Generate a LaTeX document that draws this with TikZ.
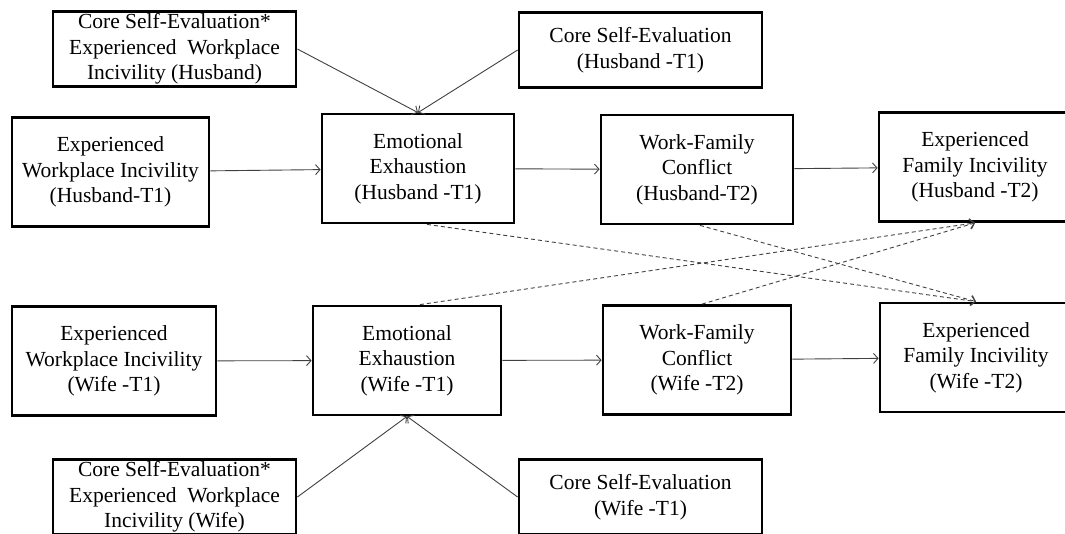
\documentclass[tikz,border=0pt]{standalone}
\usepackage{fontspec}
\setmainfont{Liberation Serif}
\usetikzlibrary{arrows.meta}

\begin{document}
\begin{tikzpicture}[x=1pt, y=-1pt]
\tikzset{
    box/.style={rectangle, draw=black, line width=2.8pt, text=black, align=center, inner sep=0pt, font=\fontsize{21.5}{25.5}\selectfont, minimum height=109pt},
    modbox/.style={box, minimum width=243pt, minimum height=75pt},
    arr/.style={draw=black!75, line width=0.9pt, -{Straight Barb[length=4.5pt,width=10pt]}},
    dasharr/.style={arr, dash pattern=on 4pt off 3pt}
}
\clip (0,0) rectangle (1065,533);

% nodes
\node[modbox]                      (csexH) at (174.5,49)  {Core Self-Evaluation*\\Experienced\ \ Workplace\\Incivility (Husband)};
\node[modbox]                      (cseH)  at (640.5,50)  {Core Self-Evaluation\\(Husband -T1)};
\node[box, minimum width=197pt]    (ewiH)  at (110.5,172) {Experienced\\Workplace Incivility\\(Husband-T1)};
\node[box, minimum width=192pt]    (eeH)   at (418,168.5) {Emotional\\Exhaustion\\(Husband -T1)};
\node[box, minimum width=192pt]    (wfcH)  at (697,169.5) {Work-Family\\Conflict\\(Husband-T2)};
\node[box, minimum width=192pt]    (efiH)  at (975,167)   {Experienced\\Family Incivility\\(Husband -T2)};

\node[box, minimum width=204pt]    (ewiW)  at (114,361)   {Experienced\\Workplace Incivility\\(Wife -T1)};
\node[box, minimum width=188pt]    (eeW)   at (407,360.5) {Emotional\\Exhaustion\\(Wife -T1)};
\node[box, minimum width=188pt]    (wfcW)  at (697,360)   {Work-Family\\Conflict\\(Wife -T2)};
\node[box, minimum width=192pt]    (efiW)  at (976,357.5) {Experienced\\Family Incivility\\(Wife -T2)};
\node[modbox]                      (csexW) at (174.5,497) {Core Self-Evaluation*\\Experienced\ \ Workplace\\Incivility (Wife)};
\node[modbox]                      (cseW)  at (640.5,497) {Core Self-Evaluation\\(Wife -T1)};

% arrows
\draw[arr] (csexH.east) -- (eeH.north);
\draw[arr] (cseH.west) -- (eeH.north);
\draw[arr] (ewiH) -- (eeH);
\draw[arr] (eeH) -- (wfcH);
\draw[arr] (wfcH) -- (efiH);
\draw[arr] (ewiW) -- (eeW);
\draw[arr] (eeW) -- (wfcW);
\draw[arr] (wfcW) -- (efiW);
\draw[arr] (csexW.east) -- (eeW.south);
\draw[arr] (cseW.west) -- (eeW.south);

% cross-over paths
\draw[dasharr] ([xshift=9pt]eeH.south) -- (efiW.north);
\draw[dasharr] ([xshift=3pt]wfcH.south) -- (efiW.north);
\draw[dasharr] ([xshift=13pt]eeW.north) -- (efiH.south);
\draw[dasharr] ([xshift=5pt]wfcW.north) -- (efiH.south);

\end{tikzpicture}
\end{document}
